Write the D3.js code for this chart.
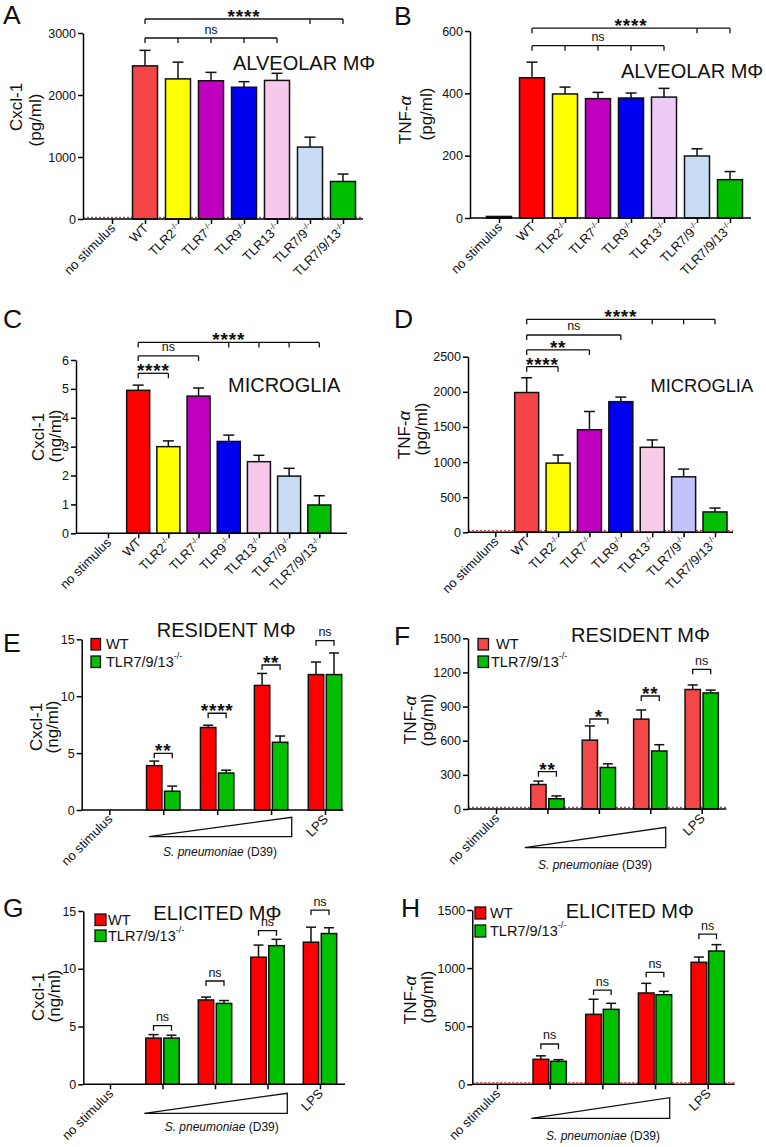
<!DOCTYPE html>
<html><head><meta charset="utf-8">
<script src="https://cdn.jsdelivr.net/npm/d3@7"></script>
<style>
body{margin:0;background:#fff;}
svg{display:block;}
</style></head><body>
<svg id="c" width="766" height="1147"></svg>
<script>
// ---------------- DATA ----------------
const genotypes = ["no stimulus","WT","TLR2","TLR7","TLR9","TLR13","TLR7/9","TLR7/9/13"];
const genotypesD = ["no stimuluns","WT","TLR2","TLR7","TLR9","TLR13","TLR7/9","TLR7/9/13"];

const cxclAlveolar    = [0, 2470, 2260, 2230, 2125, 2235, 1160, 605];
const cxclAlveolarSem = [0, 250, 270, 135, 90, 115, 160, 120];
const tnfAlveolar     = [5, 450, 398, 383, 385, 388, 199, 123];
const tnfAlveolarSem  = [0, 50, 22, 20, 16, 28, 23, 26];
const cxclMicroglia    = [0, 4.95, 3.0, 4.75, 3.18, 2.48, 1.98, 0.98];
const cxclMicrogliaSem = [0, 0.18, 0.2, 0.28, 0.22, 0.22, 0.27, 0.32];
const tnfMicroglia    = [0, 1990, 985, 1460, 1860, 1210, 790, 290];
const tnfMicrogliaSem = [0, 210, 115, 260, 65, 105, 110, 55];

const stimuli = ["no stimulus","D39 low","D39 mid","D39 high","LPS"];
const stimulusLabels = ["no stimulus","","","","LPS"];
const seriesNames = ["WT","TLR7/9/13"];

const cxclResidentWT    = [0, 3.9, 7.25, 10.95, 11.9];
const cxclResidentWTSem = [0, 0.4, 0.2, 1.05, 1.1];
const cxclResidentKO    = [0, 1.65, 3.25, 5.95, 11.9];
const cxclResidentKOSem = [0, 0.45, 0.25, 0.55, 1.9];
const tnfResidentWT    = [0, 215, 605, 790, 1050];
const tnfResidentWTSem = [0, 30, 125, 80, 40];
const tnfResidentKO    = [0, 90, 365, 510, 1020];
const tnfResidentKOSem = [0, 25, 32, 55, 25];
const cxclElicitedWT    = [0, 4.0, 7.3, 11.0, 12.3];
const cxclElicitedWTSem = [0, 0.3, 0.25, 1.05, 1.3];
const cxclElicitedKO    = [0, 4.0, 7.0, 12.0, 13.05];
const cxclElicitedKOSem = [0, 0.25, 0.25, 0.55, 0.5];
const tnfElicitedWT    = [0, 215, 602, 786, 1050];
const tnfElicitedWTSem = [0, 30, 130, 83, 45];
const tnfElicitedKO    = [0, 198, 645, 771, 1147];
const tnfElicitedKOSem = [0, 14, 52, 29, 55];

const ticksA = [0, 1000, 2000, 3000];
const ticksB = [0, 200, 400, 600];
const ticksC = [0, 1, 2, 3, 4, 5, 6];
const ticksD = [0, 500, 1000, 1500, 2000, 2500];
const ticksE = [0, 5, 10, 15];
const ticksF = [0, 300, 600, 900, 1200, 1500];
const ticksG = [0, 5, 10, 15];
const ticksH = [0, 500, 1000, 1500];

// significance: members = category indices, level = data value of bracket
const sigA = [{label:"****", members:[1,6,7], level:3226}, {label:"ns", members:[1,2,3,4,5], level:2919}];
const sigB = [{label:"****", members:[1,6,7], level:609}, {label:"ns", members:[1,2,3,4,5], level:553}];
const sigC = [{label:"****", members:[1,4,5,6,7], level:6.61}, {label:"ns", members:[1,3], level:6.14}, {label:"****", members:[1,2], level:5.54}];
const sigD = [{label:"****", members:[1,5,6,7], level:3032}, {label:"ns", members:[1,4], level:2809}, {label:"**", members:[1,3], level:2596}, {label:"****", members:[1,2], level:2358}];
const sigE = ["", "**", "****", "**", "ns"];
const sigELevels = [0, 4.98, 8.5, 12.74, 14.88];
const sigF = ["", "**", "*", "**", "ns"];
const sigFLevels = [0, 328, 791, 993, 1227];
const sigG = ["", "ns", "ns", "ns", "ns"];
const sigGLevels = [0, 5.07, 8.94, 13.3, 15.08];
const sigH = ["", "ns", "ns", "ns", "ns"];
const sigHLevels = [0, 347, 811, 964, 1292];

// ---------------- STYLE / LAYOUT ----------------
const FONT = '"Liberation Sans", Arial, Helvetica, sans-serif';
const svg = d3.select("#c").attr("font-family", FONT);

const panelsAD = [
  {letter:"A", lp:[3,24], cats:genotypes, values:cxclAlveolar, sem:cxclAlveolarSem, ticks:ticksA, sig:sigA,
   colors:["#ffffff","#f44646","#ffff00","#bf00bf","#0000f0","#f8c8ec","#c8dcf4","#00bf00"],
   ax:83, y0:219, yTop:33, xFirst:112, xLast:343, xEnd:363, barW:25, red:true,
   title:"ALVEOLAR MΦ", tp:[233,70], ts:20, ylab:["Cxcl-1","(pg/ml)"], ylp:[[16,107],[35,120]]},
  {letter:"B", lp:[394,25], cats:genotypes, values:tnfAlveolar, sem:tnfAlveolarSem, ticks:ticksB, sig:sigB,
   colors:["#222222","#ff0000","#ffff00","#bf00bf","#0000f0","#eccbf4","#c8dcf4","#00bf00"],
   ax:470, y0:218, yTop:31, xFirst:499, xLast:730, xEnd:751, barW:25, red:false,
   title:"ALVEOLAR MΦ", tp:[621,78], ts:20, ylab:["TNF-","(pg/ml)"], alpha:true, ylp:[[405,120],[426,114]]},
  {letter:"C", lp:[3,328], cats:genotypes, values:cxclMicroglia, sem:cxclMicrogliaSem, ticks:ticksC, sig:sigC,
   colors:["#ffffff","#ff0000","#ffff00","#bf00bf","#0000f0","#f8c8ec","#c8dcf4","#00bf00"],
   ax:76, y0:533.3, yTop:360, xFirst:108, xLast:319.3, xEnd:347, barW:23, red:false,
   title:"MICROGLIA", tp:[228,391.7], ts:20, ylab:["Cxcl-1","(ng/ml)"], ylp:[[38,437],[55,436]]},
  {letter:"D", lp:[394,328], cats:genotypesD, values:tnfMicroglia, sem:tnfMicrogliaSem, ticks:ticksD, sig:sigD,
   colors:["#ffffff","#f44646","#ffff00","#bf00bf","#0000f0","#f8cce8","#c2c2fc","#00bf00"],
   ax:468, y0:532.3, yTop:356.7, xFirst:495.3, xLast:715, xEnd:733, barW:24, red:true,
   title:"MICROGLIA", tp:[650.5,391.7], ts:18.3, ylab:["TNF-","(pg/ml)"], alpha:true, ylp:[[404,435],[421,429]]}
];

const panelsEH = [
  {letter:"E", lp:[3,652], wt:cxclResidentWT, wtSem:cxclResidentWTSem, ko:cxclResidentKO, koSem:cxclResidentKOSem,
   ticks:ticksE, sig:sigE, sigLevels:sigELevels, ax:81.7, y0:810, yTop:639.3, gFirst:109.3, gLast:325, xEnd:343.3,
   barW:15.4, off:9, red:false, wtColor:"#ff0000", koColor:"#00c000",
   title:"RESIDENT MΦ", tp:[156.7,636.7], ylab:["Cxcl-1","(ng/ml)"], ylp:[[36,727],[52,727]],
   leg:{x:91, sw:9.5, sh:11.5, y1:638.5, y2:656, tx1:106, tx2:106}, tri:{x0:149, x1:291.7, top:817.3, bot:836.7}, sp:[220,856]},
  {letter:"F", lp:[394,645], wt:tnfResidentWT, wtSem:tnfResidentWTSem, ko:tnfResidentKO, koSem:tnfResidentKOSem,
   ticks:ticksF, sig:sigF, sigLevels:sigFLevels, ax:468, y0:809, yTop:638.3, gFirst:496, gLast:701.7, xEnd:726.3,
   barW:15.3, off:9, red:true, wtColor:"#f44848", koColor:"#00c000",
   title:"RESIDENT MΦ", tp:[571,641.7], ylab:["TNF-","(pg/ml)"], alpha:true, ylp:[[410,720],[427,720]],
   leg:{x:478, sw:10.5, sh:11.5, y1:638.5, y2:656, tx1:496, tx2:491}, tri:{x0:524.7, x1:665.7, top:827.3, bot:847.7}, sp:[595,869]},
  {letter:"G", lp:[3,917], wt:cxclElicitedWT, wtSem:cxclElicitedWTSem, ko:cxclElicitedKO, koSem:cxclElicitedKOSem,
   ticks:ticksG, sig:sigG, sigLevels:sigGLevels, ax:83.3, y0:1084.3, yTop:911, gFirst:110, gLast:320, xEnd:345,
   barW:15.4, off:9, red:false, wtColor:"#ff0000", koColor:"#00c000",
   title:"ELICITED MΦ", tp:[153.3,920], ylab:["Cxcl-1","(ng/ml)"], ylp:[[38,997],[54,996]],
   leg:{x:95, sw:11, sh:11.5, y1:914, y2:930, tx1:108, tx2:108}, tri:{x0:144.3, x1:287.3, top:1093.3, bot:1113.3}, sp:[221.7,1131]},
  {letter:"H", lp:[401,917], wt:tnfElicitedWT, wtSem:tnfElicitedWTSem, ko:tnfElicitedKO, koSem:tnfElicitedKOSem,
   ticks:ticksH, sig:sigH, sigLevels:sigHLevels, ax:472.3, y0:1084.3, yTop:910, gFirst:497, gLast:707.7, xEnd:734.7,
   barW:15.7, off:8.8, red:true, wtColor:"#ff0000", koColor:"#00c000",
   title:"ELICITED MΦ", tp:[565.7,918], ylab:["TNF-","(pg/ml)"], alpha:true, ylp:[[410,1000],[427,997]],
   leg:{x:475, sw:10.7, sh:12, y1:907, y2:925, tx1:490, tx2:490}, tri:{x0:531.3, x1:669.7, top:1097.7, bot:1118.3}, sp:[603,1140]}
];

// ---------------- HELPERS ----------------
function addLabel(sel, name) {
  if (name.startsWith("TLR")) {
    sel.append("tspan").text(name);
    sel.append("tspan").attr("font-size", 8).attr("dy", -5).text("-/-");
  } else sel.text(name);
}

function common(g, p, y) {
  g.append("text").attr("x", p.lp[0]).attr("y", p.lp[1]).attr("font-size", 26.5).attr("fill", "#111").text(p.letter);
  p.ylab.forEach((t, i) => {
    const tx = g.append("text").attr("transform", `translate(${p.ylp[i][0]},${p.ylp[i][1]}) rotate(-90)`)
      .attr("text-anchor", "middle").attr("dominant-baseline", "central").attr("font-size", 17).attr("fill", "#111");
    if (i === 0 && p.alpha) { tx.append("tspan").text(t); tx.append("tspan").attr("font-style", "italic").text("α"); }
    else tx.text(t);
  });
  const ya = d3.axisLeft(y).tickValues(p.ticks).tickFormat(d3.format("d")).tickSize(5).tickSizeOuter(0).tickPadding(2);
  const gy = g.append("g").attr("transform", `translate(${p.ax},0)`).call(ya);
  gy.selectAll("path,line").attr("stroke", "#000").attr("stroke-width", 1.5);
  gy.selectAll("text").attr("font-size", 12.5).attr("font-family", FONT).attr("fill", "#111");
}

function drawBars(g, y, y0, data) {
  g.selectAll(null).data(data.filter(d => d.v > 0)).join("rect")
    .attr("x", d => d.cx - d.w / 2).attr("y", d => y(d.v))
    .attr("width", d => d.w).attr("height", d => Math.max(0.5, y0 - y(d.v)))
    .attr("fill", d => d.color).attr("stroke", "#111").attr("stroke-width", 1.5);
  const eb = data.filter(d => d.e > 0);
  g.selectAll(null).data(eb).join("line")
    .attr("x1", d => d.cx).attr("x2", d => d.cx).attr("y1", d => y(d.v)).attr("y2", d => y(d.v + d.e))
    .attr("stroke", "#111").attr("stroke-width", 1.5);
  g.selectAll(null).data(eb).join("line")
    .attr("x1", d => d.cx - d.cap / 2).attr("x2", d => d.cx + d.cap / 2).attr("y1", d => y(d.v + d.e)).attr("y2", d => y(d.v + d.e))
    .attr("stroke", "#111").attr("stroke-width", 1.5);
}

function sigText(g, label, x, by) {
  const star = label.includes("*");
  g.append("text").attr("x", x).attr("y", star ? by + 4 : by - 4.5)
    .attr("text-anchor", "middle").attr("fill", "#111")
    .attr("font-size", star ? 19 : 12.5).attr("font-weight", star ? "bold" : "normal")
    .attr("letter-spacing", star ? 0.8 : 0).text(label);
}

function xBaseline(g, p) {
  if (p.red) {
    g.append("line").attr("x1", p.ax).attr("x2", p.xEnd).attr("y1", p.y0 - 1.6).attr("y2", p.y0 - 1.6)
      .attr("stroke", "#e03a3a").attr("stroke-width", 1.3).attr("stroke-dasharray", "2,2");
  }
}

// ---------------- PANELS A-D ----------------
panelsAD.forEach(p => {
  const g = svg.append("g");
  const y = d3.scaleLinear().domain([0, d3.max(p.ticks)]).range([p.y0, p.yTop]);
  const x = d3.scalePoint().domain(p.cats).range([p.xFirst, p.xLast]);
  xBaseline(g, p);
  drawBars(g, y, p.y0, p.cats.map((c, i) => ({cx: x(c), w: p.barW, v: p.values[i], e: p.sem[i], color: p.colors[i], cap: 11})));
  g.append("line").attr("x1", p.ax).attr("x2", p.xEnd).attr("y1", p.y0).attr("y2", p.y0).attr("stroke", "#000").attr("stroke-width", 1.5);
  const gx = g.append("g").attr("transform", `translate(0,${p.y0})`)
    .call(d3.axisBottom(x).tickSize(5).tickSizeOuter(0).tickFormat(""));
  gx.select(".domain").remove();
  gx.selectAll("line").attr("stroke", "#000").attr("stroke-width", 1.5);
  p.cats.forEach(c => {
    const t = g.append("text").attr("transform", `translate(${x(c) + 4},${p.y0 + 10}) rotate(-45)`)
      .attr("text-anchor", "end").attr("font-size", 13).attr("fill", "#111");
    addLabel(t, c);
  });
  p.sig.forEach(s => {
    const by = y(s.level);
    const xs = s.members.map(i => x(p.cats[i]));
    const x0 = d3.min(xs), x1 = d3.max(xs);
    g.append("line").attr("x1", x0).attr("x2", x1).attr("y1", by).attr("y2", by).attr("stroke", "#111").attr("stroke-width", 1.3);
    xs.forEach(xx => g.append("line").attr("x1", xx).attr("x2", xx).attr("y1", by).attr("y2", by + 5).attr("stroke", "#111").attr("stroke-width", 1.3));
    sigText(g, s.label, (x0 + x1) / 2, by);
  });
  g.append("text").attr("x", p.tp[0]).attr("y", p.tp[1]).attr("font-size", p.ts).attr("fill", "#111").text(p.title);
  common(g, p, y);
});

// ---------------- PANELS E-H ----------------
panelsEH.forEach(p => {
  const g = svg.append("g");
  const y = d3.scaleLinear().domain([0, d3.max(p.ticks)]).range([p.y0, p.yTop]);
  const x = d3.scalePoint().domain(stimuli).range([p.gFirst, p.gLast]);
  const inner = d3.scalePoint().domain(seriesNames).range([-p.off, p.off]);
  xBaseline(g, p);
  const bars = [];
  stimuli.forEach((s, i) => {
    bars.push({cx: x(s) + inner("WT"), w: p.barW, v: p.wt[i], e: p.wtSem[i], color: p.wtColor, cap: 10});
    bars.push({cx: x(s) + inner("TLR7/9/13"), w: p.barW, v: p.ko[i], e: p.koSem[i], color: p.koColor, cap: 10});
  });
  drawBars(g, y, p.y0, bars);
  g.append("line").attr("x1", p.ax).attr("x2", p.xEnd).attr("y1", p.y0).attr("y2", p.y0).attr("stroke", "#000").attr("stroke-width", 1.5);
  const gx = g.append("g").attr("transform", `translate(0,${p.y0})`)
    .call(d3.axisBottom(x).tickSize(5).tickSizeOuter(0).tickFormat(""));
  gx.select(".domain").remove();
  gx.selectAll("line").attr("stroke", "#000").attr("stroke-width", 1.5);
  stimuli.forEach((s, i) => {
    if (!stimulusLabels[i]) return;
    g.append("text").attr("transform", `translate(${x(s) + 4},${p.y0 + 10}) rotate(-45)`)
      .attr("text-anchor", "end").attr("font-size", 13).attr("fill", "#111").text(stimulusLabels[i]);
  });
  g.append("path").attr("d", `M${p.tri.x0},${p.tri.bot}L${p.tri.x1},${p.tri.bot}L${p.tri.x1},${p.tri.top}Z`)
    .attr("fill", "#fff").attr("stroke", "#111").attr("stroke-width", 1.3);
  const sp = g.append("text").attr("x", p.sp[0]).attr("y", p.sp[1]).attr("text-anchor", "middle").attr("font-size", 12).attr("fill", "#111");
  sp.append("tspan").attr("font-style", "italic").text("S. pneumoniae");
  sp.append("tspan").text(" (D39)");
  stimuli.forEach((s, i) => {
    if (!p.sig[i]) return;
    const by = y(p.sigLevels[i]);
    const x0 = x(s) + inner("WT"), x1 = x(s) + inner("TLR7/9/13");
    g.append("path").attr("d", `M${x0},${by + 5}L${x0},${by}L${x1},${by}L${x1},${by + 5}`)
      .attr("fill", "none").attr("stroke", "#111").attr("stroke-width", 1.3);
    sigText(g, p.sig[i], (x0 + x1) / 2, by);
  });
  const L = p.leg;
  g.append("rect").attr("x", L.x).attr("y", L.y1).attr("width", L.sw).attr("height", L.sh).attr("fill", p.wtColor).attr("stroke", "#111").attr("stroke-width", 1.3);
  g.append("rect").attr("x", L.x).attr("y", L.y2).attr("width", L.sw).attr("height", L.sh).attr("fill", p.koColor).attr("stroke", "#111").attr("stroke-width", 1.3);
  g.append("text").attr("x", L.tx1).attr("y", L.y1 + L.sh / 2).attr("dominant-baseline", "central").attr("font-size", 14.5).attr("fill", "#111").text(seriesNames[0]);
  const lt = g.append("text").attr("x", L.tx2).attr("y", L.y2 + L.sh / 2).attr("dominant-baseline", "central").attr("font-size", 14.5).attr("fill", "#111");
  lt.append("tspan").text(seriesNames[1]);
  lt.append("tspan").attr("font-size", 9).attr("dy", -6).text("-/-");
  g.append("text").attr("x", p.tp[0]).attr("y", p.tp[1]).attr("font-size", 20).attr("fill", "#111").text(p.title);
  common(g, p, y);
});
</script>
</body></html>
